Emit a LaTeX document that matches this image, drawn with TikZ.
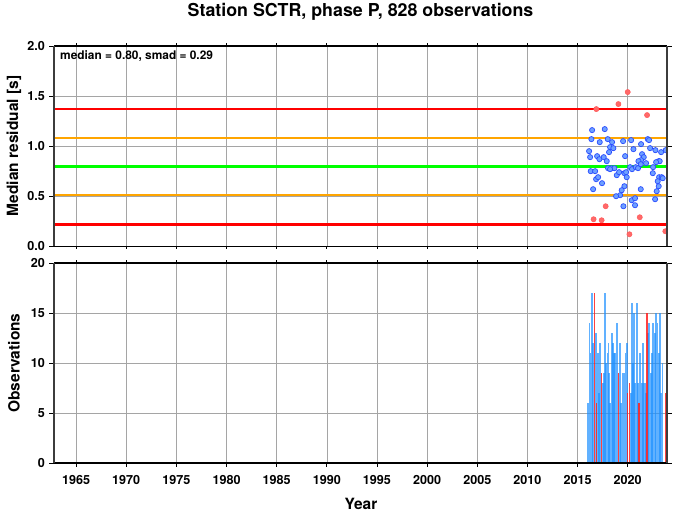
\documentclass[tikz,border=0pt]{standalone}
\usepackage{fontspec}
\setmainfont{TeX Gyre Heros}
\usepackage{tikz}
\usepackage{xcolor}

\definecolor{ptblue}{RGB}{110,160,255}
\definecolor{ptedge}{RGB}{40,75,255}
\definecolor{ptred}{RGB}{255,105,105}
\definecolor{barblue}{RGB}{30,144,255}
\definecolor{barred}{RGB}{255,30,30}
\definecolor{lnorange}{RGB}{255,165,0}
\definecolor{lngreen}{RGB}{0,255,0}
\definecolor{gridgray}{RGB}{165,165,165}
\definecolor{axisgray}{RGB}{60,60,60}

\tikzset{
  gridline/.style={gridgray, line width=0.6pt},
  border/.style={black, line width=1.2pt},
  axisline/.style={axisgray, line width=2pt},
  tick/.style={black, line width=0.8pt},
  ticklab/.style={font=\fontsize{12.6}{14}\selectfont\bfseries, inner sep=0pt},
  axislab/.style={font=\fontsize{15.5}{18}\selectfont\bfseries, inner sep=0pt},
  bluedot/.style={fill=ptblue, draw=ptedge, line width=0.7pt},
  reddot/.style={fill=ptred, draw=ptred!85!red, line width=0.5pt},
  bluebar/.style={fill=barblue, fill opacity=0.7},
  redbar/.style={fill=barred, fill opacity=0.85},
}
\def\xo{1962.8}
\def\xw{61.12}

\begin{document}
\begin{tikzpicture}[x=1pt,y=1pt]
\useasboundingbox (0,0) rectangle (673,511);

\node[font=\fontsize{17.8}{20}\selectfont\bfseries, inner sep=0pt] (title) at (360.5,499) {Station SCTR, phase P, 828 observations};
\node[axislab, rotate=90] (ylabtop) at (14,365) {Median residual [s]};
\node[axislab, rotate=90] (ylabbot) at (14,148) {Observations};
\node[axislab] (xlab) at (361,7.5) {Year};

% residual panel
\begin{scope}[shift={(54,264.7)}, x=10.03pt, y=100.15pt]
\foreach \yy in {1965,1970,...,2020}
  \draw[gridline] ({\yy-\xo},0) -- ({\yy-\xo},2);
\foreach \v in {0.5,1,1.5}
  \draw[gridline] (0,\v) -- (\xw,\v);

\draw[red, line width=2.5pt] (0,1.37) -- (\xw,1.37);
\draw[lnorange, line width=2.5pt] (0,1.08) -- (\xw,1.08);
\draw[lngreen, line width=3pt] (0,0.80) -- (\xw,0.80);
\draw[lnorange, line width=2.5pt] (0,0.51) -- (\xw,0.51);
\draw[red, line width=2.5pt] (0,0.22) -- (\xw,0.22);

\begin{scope}
\clip (0,0) rectangle (\xw,2);
\foreach \t/\v in {2016.45/1.16,2017.71/1.17,2016.38/1.07,2017.21/1.04,2018.01/1.07,2018.44/1.04,
  2019.54/1.05,2020.34/1.06,2021.33/1.02,2022.00/1.07,2022.13/1.06,2016.15/0.95,2016.25/0.89,
  2016.95/0.90,2017.18/0.87,2017.61/0.89,2017.91/0.85,2018.14/0.94,2018.24/0.99,2018.57/0.98,
  2019.74/0.90,2020.57/0.97,2021.43/0.92,2021.60/0.89,2022.23/0.98,2022.76/0.96,2023.33/0.94,
  2023.79/0.96,2023.09/0.85,2023.19/0.85,2022.83/0.84,2021.33/0.86,2021.07/0.85,2021.83/0.83,
  2016.31/0.75,2016.75/0.75,2016.85/0.67,2017.05/0.69,2017.44/0.63,2016.55/0.57,2018.04/0.78,
  2018.37/0.78,2018.67/0.78,2018.24/0.77,2018.91/0.71,2019.14/0.74,2019.67/0.73,2019.84/0.74,
  2019.90/0.69,2020.24/0.79,2020.43/0.77,2020.80/0.79,2021.03/0.78,2021.30/0.82,2022.53/0.79,
  2022.50/0.73,2023.13/0.69,2023.39/0.69,2023.49/0.68,2022.99/0.65,2023.09/0.60,2022.89/0.55,
  2022.73/0.47,2019.67/0.60,2019.40/0.56,2019.24/0.51,2018.84/0.50,2019.57/0.40,2020.40/0.46,
  2020.73/0.48,2020.73/0.41,2021.30/0.57}
  \draw[bluedot] ({\t-\xo},\v) circle (2.6pt);
\foreach \t/\v in {2020.00/1.54,2019.07/1.42,2016.87/1.37,2021.93/1.31,2017.80/0.40,
  2016.60/0.27,2017.40/0.26,2021.20/0.29,2020.17/0.12,2023.75/0.15}
  \draw[reddot] ({\t-\xo},\v) circle (2.6pt);
\end{scope}

\node[font=\fontsize{11.9}{14}\selectfont\bfseries, inner sep=0pt, anchor=west] (stats) at (0.6,1.9) {median = 0.80, smad = 0.29};

\draw[border] (0,2) -- (\xw,2);
\draw[border] (0,0) -- (\xw,0);
\foreach \yy in {1965,1970,...,2020} {
  \draw[tick] ({\yy-\xo},0) -- ++(0,-3pt);
  \draw[tick] ({\yy-\xo},2) -- ++(0,3pt);
}
\foreach \v/\l in {0/0.0,0.5/0.5,1/1.0,1.5/1.5,2/2.0} {
  \draw[tick] (0,\v) -- ++(-5pt,0);
  \draw[tick] (\xw,\v) -- ++(5pt,0);
  \node[ticklab, anchor=east] (rl\l) at (0,\v) [xshift=-9pt] {\l};
}
\draw[axisline] (0,0) -- (0,2);
\draw[axisline] (\xw,0) -- (\xw,2);
\end{scope}

% observation panel
\begin{scope}[shift={(54,47.7)}, x=10.03pt, y=10.015pt]
\foreach \yy in {1965,1970,...,2020}
  \draw[gridline] ({\yy-\xo},0) -- ({\yy-\xo},20);
\foreach \v in {5,10,15}
  \draw[gridline] (0,\v) -- (\xw,\v);

\foreach \t/\n in {2016.08/6,2016.18/14,2016.28/11,2016.41/17,2016.55/12,2016.81/13,2017.01/11,
  2017.11/7,2017.24/12,2017.51/8,2017.64/9,2017.74/17,2017.84/10,2017.98/11,2018.08/12,2018.17/9,
  2018.27/6,2018.41/13,2018.51/12,2018.64/11,2018.74/11,2018.91/14,2019.24/12,2019.34/6,2019.47/9,
  2019.64/9,2019.77/11,2019.90/12,2020.30/7,2020.40/16,2020.50/10,2020.63/15,2020.73/8,2020.90/16,
  2021.00/8,2021.23/11,2021.37/8,2021.50/12,2021.56/8,2021.70/8,2021.83/7,2022.06/13,2022.16/14,
  2022.33/9,2022.46/11,2022.56/14,2022.73/13,2022.83/15,2022.96/14,2023.09/11,2023.23/15,
  2023.33/7,2023.46/10,2023.89/8}
  \fill[bluebar] ({\t-\xo-0.09},0) rectangle ({\t-\xo+0.09},\n);
\foreach \t/\n in {2016.68/17,2016.91/6,2017.41/9,2019.07/9,2020.00/7,2020.17/8,2021.13/6,
  2021.93/15,2023.79/7}
  \fill[redbar] ({\t-\xo-0.06},0) rectangle ({\t-\xo+0.06},\n);

\draw[border] (0,20) -- (\xw,20);
\draw[border, line width=1.6pt] (0,0) -- (\xw,0);
\foreach \yy in {1965,1970,...,2020} {
  \draw[tick] ({\yy-\xo},0) -- ++(0,-4pt);
  \draw[tick] ({\yy-\xo},20) -- ++(0,3pt);
  \node[ticklab] (yr\yy) at ({\yy-\xo},0) [yshift=-16.7pt] {\yy};
}
\foreach \v in {0,5,10,15,20} {
  \draw[tick] (0,\v) -- ++(-5pt,0);
  \draw[tick] (\xw,\v) -- ++(5pt,0);
  \node[ticklab, anchor=east] (ol\v) at (0,\v) [xshift=-9pt] {\v};
}
\draw[axisline] (0,0) -- (0,20);
\draw[axisline] (\xw,0) -- (\xw,20);
\end{scope}
\end{tikzpicture}
\end{document}
